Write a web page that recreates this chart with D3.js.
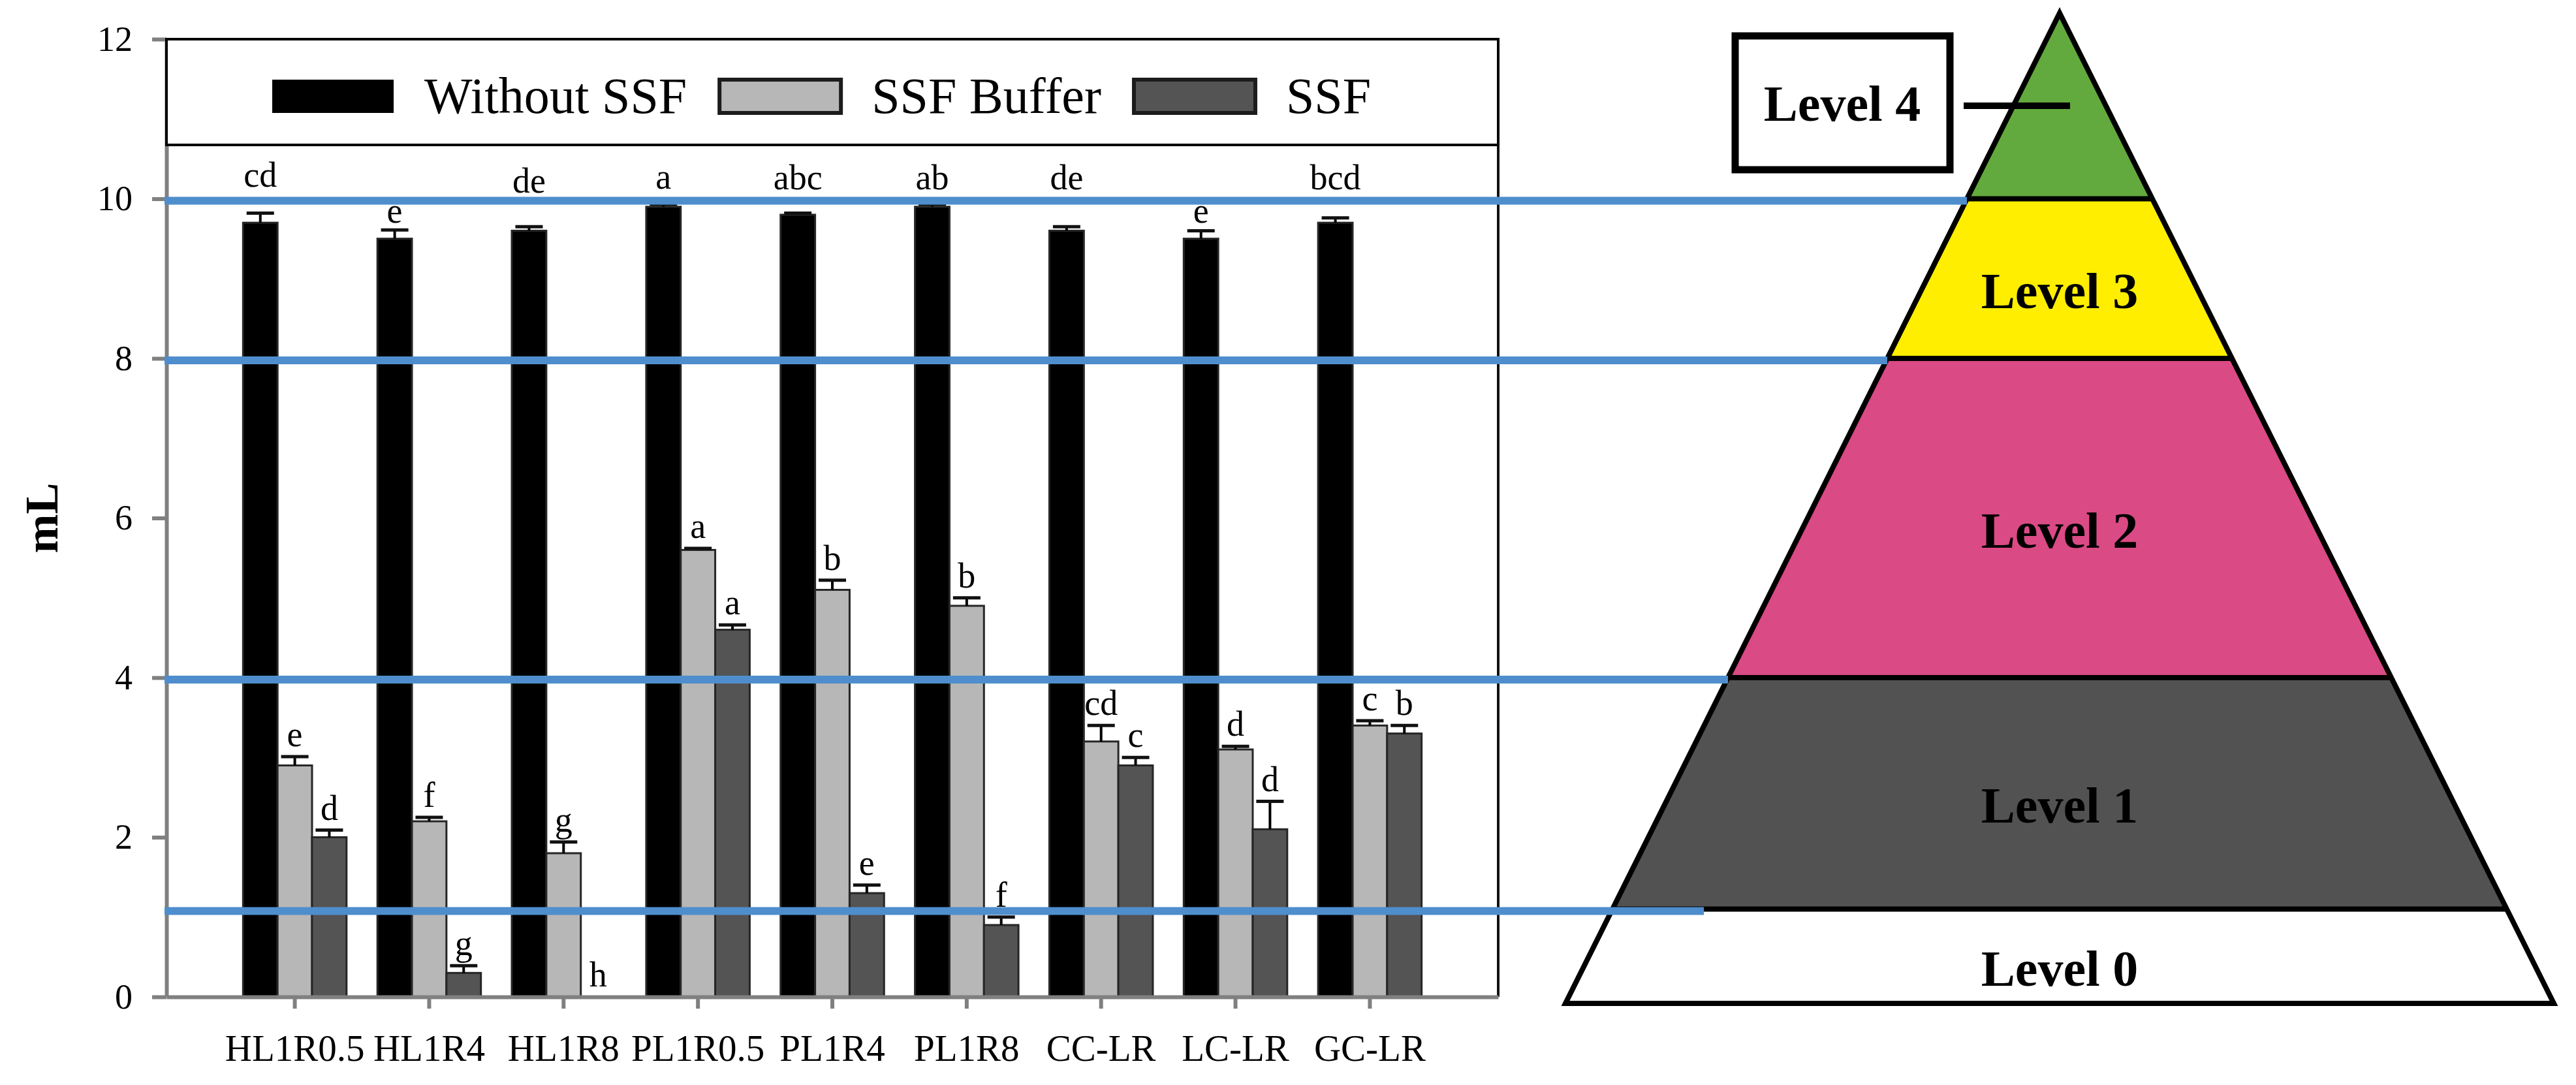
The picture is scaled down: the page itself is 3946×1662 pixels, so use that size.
<!DOCTYPE html>
<html>
<head>
<meta charset="utf-8">
<script src="https://cdn.jsdelivr.net/npm/d3@7"></script>
<style>
  body { margin: 0; background: #fff; }
  svg { display: block; }
  text { font-family: "Liberation Serif", "Times New Roman", serif; }
</style>
</head>
<body>
<svg id="drawing_region"></svg>
<script>
// ---- data ----
const categories = ['HL1R0.5', 'HL1R4', 'HL1R8', 'PL1R0.5', 'PL1R4', 'PL1R8', 'CC-LR', 'LC-LR', 'GC-LR'];
const seriesNames = ['Without SSF', 'SSF Buffer', 'SSF'];

const withoutSSF = [9.7, 9.5, 9.6, 9.9, 9.8, 9.9, 9.6, 9.5, 9.7];
const withoutErr = [0.12, 0.11, 0.05, 0.03, 0.02, 0.03, 0.05, 0.1, 0.06];
const withoutLetters = ['cd', 'e', 'de', 'a', 'abc', 'ab', 'de', 'e', 'bcd'];
const withoutLetterAt = [10.15, 9.7, 10.08, 10.13, 10.12, 10.12, 10.12, 9.7, 10.12];

const bufferSSF = [2.9, 2.2, 1.8, 5.6, 5.1, 4.9, 3.2, 3.1, 3.4];
const bufferErr = [0.11, 0.05, 0.14, 0.02, 0.12, 0.1, 0.2, 0.04, 0.06];
const bufferLetters = ['e', 'f', 'g', 'a', 'b', 'b', 'cd', 'd', 'c'];

const ssfValues = [2.0, 0.3, 0, 4.6, 1.3, 0.9, 2.9, 2.1, 3.3];
const ssfErr = [0.09, 0.09, 0, 0.06, 0.1, 0.1, 0.1, 0.35, 0.1];
const ssfLetters = ['d', 'g', 'h', 'a', 'e', 'f', 'c', 'd', 'b'];

const yTicks = [0, 2, 4, 6, 8, 10, 12];
const guideLevels = [1.1, 4, 8, 10];
const levelNames = ['Level 0', 'Level 1', 'Level 2', 'Level 3', 'Level 4'];

// ---- layout ----
const config = {
    width: 3946,
    height: 1662,
    plot: { left: 255, right: 2295, top: 60, bottom: 1527 },
    legendBottom: 222,
    pyramid: { apexX: 3155, apexY: 20, baseY: 1537, halfBase: 757 }
};

const barFill = ['#000000', '#b7b7b7', '#545454'];
const levelFill = ['#ffffff', '#525252', '#da4a85', '#ffee00', '#62aa3d'];
const guideColor = '#4f8ecc';

const svg = d3.select('#drawing_region')
    .attr('width', config.width)
    .attr('height', config.height);

const p = config.plot;

const yscale = d3.scaleLinear()
    .domain([0, 12])
    .range([p.bottom, p.top]);

const xscale = d3.scaleBand()
    .domain(categories)
    .range([p.left, p.right])
    .paddingInner(0.23)
    .paddingOuter(0.57);

const xsub = d3.scaleBand()
    .domain(seriesNames)
    .range([0, xscale.bandwidth()]);

const series = [
    { name: seriesNames[0], values: withoutSSF, err: withoutErr, letters: withoutLetters },
    { name: seriesNames[1], values: bufferSSF, err: bufferErr, letters: bufferLetters },
    { name: seriesNames[2], values: ssfValues, err: ssfErr, letters: ssfLetters }
];

const rows = [];
series.forEach((s, si) => {
    categories.forEach((c, i) => {
        rows.push({
            cat: c, si: si, name: s.name,
            value: s.values[i], err: s.err[i], letter: s.letters[i],
            letterAt: si === 0 ? withoutLetterAt[i] : s.values[i] + s.err[i] + 0.13
        });
    });
});

// ---- axes ----
const yaxis = d3.axisLeft(yscale)
    .tickValues(yTicks)
    .tickSize(22)
    .tickSizeOuter(0)
    .tickPadding(30);

const xaxis = d3.axisBottom(xscale)
    .tickSize(18)
    .tickSizeOuter(0)
    .tickPadding(40);

const yaxis_group = svg.append('g')
    .attr('transform', `translate(${p.left}, 0)`)
    .call(yaxis);
yaxis_group.select('.domain').attr('stroke', '#808080').attr('stroke-width', 6);
yaxis_group.selectAll('.tick line').attr('stroke', '#808080').attr('stroke-width', 6);
yaxis_group.selectAll('.tick text')
    .attr('fill', '#000')
    .style('font-size', '54px')
    .style('font-family', '"Liberation Serif", serif');

// frame on the right
svg.append('line')
    .attr('x1', p.right).attr('x2', p.right)
    .attr('y1', p.top).attr('y2', p.bottom)
    .attr('stroke', '#111').attr('stroke-width', 4);

// ---- bars ----
const chart = svg.append('g');

chart.selectAll('rect.bar')
    .data(rows.filter(d => d.value > 0))
    .join('rect')
    .attr('class', 'bar')
    .attr('x', d => xscale(d.cat) + xsub(d.name))
    .attr('y', d => yscale(d.value))
    .attr('width', xsub.bandwidth())
    .attr('height', d => yscale(0) - yscale(d.value))
    .attr('fill', d => barFill[d.si])
    .attr('stroke', '#262626')
    .attr('stroke-width', 3);

// error bars (upper only)
const errs = chart.selectAll('g.err')
    .data(rows.filter(d => d.err > 0))
    .join('g')
    .attr('class', 'err')
    .attr('transform', d => `translate(${xscale(d.cat) + xsub(d.name) + xsub.bandwidth() / 2}, 0)`);

errs.append('line')
    .attr('x1', 0).attr('x2', 0)
    .attr('y1', d => yscale(d.value))
    .attr('y2', d => yscale(d.value + d.err))
    .attr('stroke', '#000').attr('stroke-width', 4);

errs.append('line')
    .attr('x1', -21).attr('x2', 21)
    .attr('y1', d => yscale(d.value + d.err))
    .attr('y2', d => yscale(d.value + d.err))
    .attr('stroke', '#111').attr('stroke-width', 5);

// significance letters
chart.selectAll('text.letter')
    .data(rows)
    .join('text')
    .attr('class', 'letter')
    .attr('x', d => xscale(d.cat) + xsub(d.name) + xsub.bandwidth() / 2)
    .attr('y', d => yscale(d.letterAt))
    .attr('text-anchor', 'middle')
    .style('font-size', '54px')
    .text(d => d.letter);

// x axis on top of bars
const xaxis_group = svg.append('g')
    .attr('transform', `translate(0, ${p.bottom})`)
    .call(xaxis);
xaxis_group.select('.domain').attr('stroke', '#808080').attr('stroke-width', 6);
xaxis_group.selectAll('.tick line').attr('stroke', '#808080').attr('stroke-width', 6);
xaxis_group.selectAll('.tick text')
    .attr('fill', '#000')
    .style('font-size', '57px')
    .style('font-family', '"Liberation Serif", serif');

// y label
svg.append('text')
    .attr('transform', `translate(88, ${yscale(6)}) rotate(-90)`)
    .attr('text-anchor', 'middle')
    .style('font-size', '72px')
    .style('font-weight', 'bold')
    .text('mL');

// ---- legend ----
svg.append('rect')
    .attr('x', p.left).attr('y', p.top)
    .attr('width', p.right - p.left)
    .attr('height', config.legendBottom - p.top)
    .attr('fill', '#fff')
    .attr('stroke', '#000').attr('stroke-width', 4);

const legend = svg.append('g');
let lx = 417;
seriesNames.forEach((name, i) => {
    legend.append('rect')
        .attr('x', lx).attr('y', 122)
        .attr('width', 186).attr('height', 51)
        .attr('fill', barFill[i])
        .attr('stroke', '#1c1c1c')
        .attr('stroke-width', i === 0 ? 0 : 6);
    const t = legend.append('text')
        .attr('x', lx + 186 + 47)
        .attr('y', 173)
        .style('font-size', '78px')
        .text(name);
    lx += 186 + 47 + t.node().getComputedTextLength() + 50;
});

// ---- pyramid ----
const pyr = config.pyramid;
const edge = (y, side) => pyr.apexX + side * pyr.halfBase * (y - pyr.apexY) / (pyr.baseY - pyr.apexY);
const bounds = [pyr.baseY].concat(guideLevels.map(v => yscale(v)), [pyr.apexY]);

const levels = levelNames.map((name, i) => ({ name: name, yb: bounds[i], yt: bounds[i + 1], i: i }));

const pyramid = svg.append('g');

pyramid.selectAll('path.level')
    .data(levels)
    .join('path')
    .attr('class', 'level')
    .attr('d', d => d3.line()([
        [edge(d.yb, -1), d.yb], [edge(d.yb, 1), d.yb],
        [edge(d.yt, 1), d.yt], [edge(d.yt, -1), d.yt]
    ]) + 'Z')
    .attr('fill', d => levelFill[d.i]);

// blue guide lines drawn across chart and into the pyramid
svg.append('g').selectAll('line')
    .data(guideLevels)
    .join('line')
    .attr('x1', p.left - 3)
    .attr('x2', (d, i) => edge(yscale(d), -1) + (i === 0 ? 140 : 0))
    .attr('y1', d => yscale(d) + 3)
    .attr('y2', d => yscale(d) + 3)
    .attr('stroke', guideColor)
    .attr('stroke-width', 12);

// pyramid outlines
pyramid.append('g').selectAll('line')
    .data(guideLevels)
    .join('line')
    .attr('x1', d => edge(yscale(d), -1))
    .attr('x2', d => edge(yscale(d), 1))
    .attr('y1', d => yscale(d))
    .attr('y2', d => yscale(d))
    .attr('stroke', '#000')
    .attr('stroke-width', 8);

pyramid.append('path')
    .attr('d', d3.line()([
        [pyr.apexX, pyr.apexY],
        [edge(pyr.baseY, 1), pyr.baseY],
        [edge(pyr.baseY, -1), pyr.baseY]
    ]) + 'Z')
    .attr('fill', 'none')
    .attr('stroke', '#000')
    .attr('stroke-width', 8)
    .attr('stroke-linejoin', 'miter');

pyramid.selectAll('text.lvl')
    .data(levels.filter(d => d.i < 4))
    .join('text')
    .attr('class', 'lvl')
    .attr('x', pyr.apexX)
    .attr('y', d => (d.yb + d.yt) / 2 + 45)
    .attr('text-anchor', 'middle')
    .attr('fill', '#000')
    .style('font-size', '78px')
    .style('font-weight', 'bold')
    .text(d => d.name);

// Level 4 call-out box
const topLevel = levels[4];
pyramid.append('rect')
    .attr('x', 2658).attr('y', 55)
    .attr('width', 329).attr('height', 205)
    .attr('fill', '#fff')
    .attr('stroke', '#000').attr('stroke-width', 11);

pyramid.append('text')
    .attr('x', 2822).attr('y', 185)
    .attr('text-anchor', 'middle')
    .style('font-size', '78px')
    .style('font-weight', 'bold')
    .text(topLevel.name);

pyramid.append('line')
    .attr('x1', 3008).attr('x2', pyr.apexX + 16)
    .attr('y1', 162).attr('y2', 162)
    .attr('stroke', '#000').attr('stroke-width', 10);
</script>
</body>
</html>
